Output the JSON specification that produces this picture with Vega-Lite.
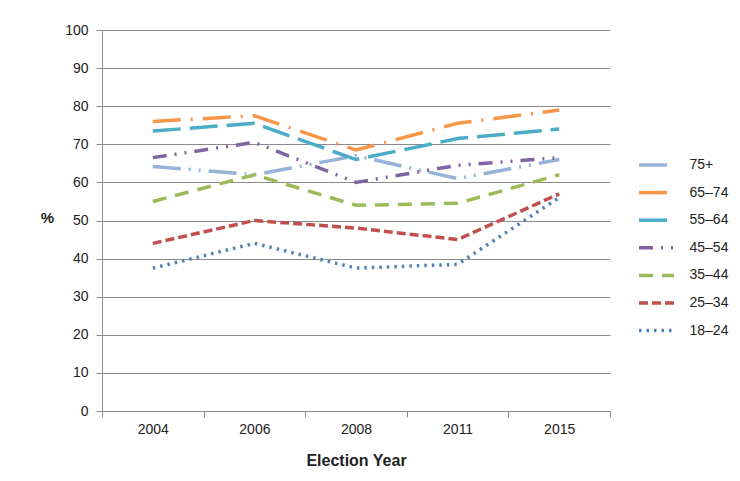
{
  "$schema": "https://vega.github.io/schema/vega-lite/v6.json",
  "autosize": "none",
  "width": 508,
  "height": 381,
  "padding": {"left": 102, "top": 30, "right": 130, "bottom": 70},
  "background": "white",
  "config": {
    "font": "Liberation Sans",
    "view": {"stroke": null},
    "axis": {"labelFont": "Liberation Sans", "labelFontSize": 14, "labelColor": "#222", "titleFont": "Liberation Sans", "titleFontSize": 15, "titleColor": "#222", "titleFontWeight": "bold", "domainColor": "#8a8a8a", "tickColor": "#8a8a8a", "gridColor": "#8a8a8a", "gridOpacity": 1, "tickSize": 6}
  },
  "data": {"values": [
    {"year": "2004", "group": "75+", "pct": 64.2},
    {"year": "2006", "group": "75+", "pct": 62},
    {"year": "2008", "group": "75+", "pct": 67},
    {"year": "2011", "group": "75+", "pct": 61},
    {"year": "2015", "group": "75+", "pct": 66},
    {"year": "2004", "group": "65–74", "pct": 76},
    {"year": "2006", "group": "65–74", "pct": 77.5},
    {"year": "2008", "group": "65–74", "pct": 68.5},
    {"year": "2011", "group": "65–74", "pct": 75.5},
    {"year": "2015", "group": "65–74", "pct": 79},
    {"year": "2004", "group": "55–64", "pct": 73.5},
    {"year": "2006", "group": "55–64", "pct": 75.5},
    {"year": "2008", "group": "55–64", "pct": 66},
    {"year": "2011", "group": "55–64", "pct": 71.5},
    {"year": "2015", "group": "55–64", "pct": 74},
    {"year": "2004", "group": "45–54", "pct": 66.5},
    {"year": "2006", "group": "45–54", "pct": 70.5},
    {"year": "2008", "group": "45–54", "pct": 60},
    {"year": "2011", "group": "45–54", "pct": 64.5},
    {"year": "2015", "group": "45–54", "pct": 66.5},
    {"year": "2004", "group": "35–44", "pct": 55},
    {"year": "2006", "group": "35–44", "pct": 62},
    {"year": "2008", "group": "35–44", "pct": 54},
    {"year": "2011", "group": "35–44", "pct": 54.5},
    {"year": "2015", "group": "35–44", "pct": 62},
    {"year": "2004", "group": "25–34", "pct": 44},
    {"year": "2006", "group": "25–34", "pct": 50},
    {"year": "2008", "group": "25–34", "pct": 48},
    {"year": "2011", "group": "25–34", "pct": 45},
    {"year": "2015", "group": "25–34", "pct": 57},
    {"year": "2004", "group": "18–24", "pct": 37.5},
    {"year": "2006", "group": "18–24", "pct": 44},
    {"year": "2008", "group": "18–24", "pct": 37.5},
    {"year": "2011", "group": "18–24", "pct": 38.5},
    {"year": "2015", "group": "18–24", "pct": 56}
  ]},
  "mark": {"type": "line", "strokeWidth": 3.5, "strokeCap": "butt"},
  "encoding": {
    "x": {
      "field": "year", "type": "ordinal", "bandPosition": 0.5,
      "scale": {"type": "band", "paddingInner": 0, "paddingOuter": 0},
      "axis": {"title": "Election Year", "labelAngle": 0, "tickBand": "extent", "labelPadding": 5, "titlePadding": 16, "titleFontSize": 16, "grid": false}
    },
    "y": {
      "field": "pct", "type": "quantitative",
      "scale": {"domain": [0, 100], "nice": false},
      "axis": {"title": "%", "values": [0,10,20,30,40,50,60,70,80,90,100], "titleAngle": 0, "titleX": -55, "titleY": 195, "titleAlign": "center", "labelPadding": 8, "grid": true}
    },
    "color": {
      "field": "group", "type": "nominal",
      "scale": {"domain": ["75+","65–74","55–64","45–54","35–44","25–34","18–24"], "range": ["#95B3D7","#F79646","#4BACC6","#8064A2","#9BBB59","#C0504D","#4F81BD"]},
      "legend": {"title": null, "orient": "none", "legendX": 538.5, "legendY": 119, "padding": 0, "symbolType": "M-1.25,0L1.25,0", "symbolSize": 784, "symbolStrokeWidth": 3.5, "labelFontSize": 14, "labelFont": "Liberation Sans", "labelColor": "#222", "rowPadding": 4.6, "labelOffset": 17}
    },
    "strokeDash": {
      "field": "group", "type": "nominal",
      "scale": {"domain": ["75+","65–74","55–64","45–54","35–44","25–34","18–24"], "range": [[28,8,2,8,2,8],[28,10,2,10],[28,9],[14,8,2,8,2,8],[14,9],[9,4],[2.5,5]]}
    }
  }
}
